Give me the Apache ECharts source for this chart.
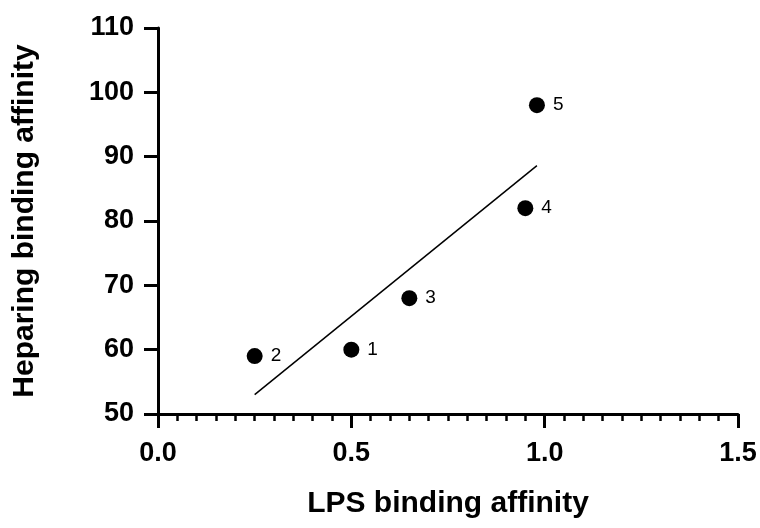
<!DOCTYPE html>
<html>
<head>
<meta charset="utf-8">
<script src="https://cdn.jsdelivr.net/npm/echarts@6/dist/echarts.min.js"></script>
<style>
  html, body { margin: 0; padding: 0; background: #fff; }
  #chart { width: 760px; height: 528px; }
</style>
</head>
<body>
<div id="chart"></div>
<script>
// sample points (label, LPS affinity, heparin affinity)
const pointIds = ['1', '2', '3', '4', '5']
const lpsAffinity = [0.5, 0.25, 0.65, 0.95, 0.98]
const heparinAffinity = [60, 59, 68, 82, 98]

// fitted line, two ends
const fitX = [0.25, 0.98]
const fitY = [53, 88.6]

const font = '"Liberation Sans", Arial, sans-serif'

const chart = echarts.init(document.getElementById('chart'))

const points = pointIds.map((id, i) => ({name: id, value: [lpsAffinity[i], heparinAffinity[i]]}))
const fitLine = fitX.map((x, i) => [x, fitY[i]])

chart.setOption({
  animation: false,
  backgroundColor: '#fff',
  grid: {left: 158, right: 22, top: 28, bottom: 114},
  xAxis: {
    type: 'value',
    min: 0,
    max: 1.5,
    interval: 0.5,
    name: 'LPS binding affinity',
    nameLocation: 'middle',
    nameGap: 75,
    nameTextStyle: {fontFamily: font, fontSize: 30, fontWeight: 'bold', color: '#000'},
    axisLine: {lineStyle: {color: '#000', width: 3}},
    axisTick: {show: true, length: 14, lineStyle: {color: '#000', width: 3}},
    minorTick: {show: true, splitNumber: 10, length: 7, lineStyle: {color: '#000', width: 2.5}},
    splitLine: {show: false},
    axisLabel: {
      margin: 26,
      fontFamily: font, fontSize: 27, fontWeight: 'bold', color: '#000',
      formatter: v => v.toFixed(1)
    }
  },
  yAxis: {
    type: 'value',
    min: 50,
    max: 110,
    interval: 10,
    name: 'Heparing binding affinity',
    nameLocation: 'middle',
    nameGap: 118,
    nameTextStyle: {fontFamily: font, fontSize: 30, fontWeight: 'bold', color: '#000'},
    axisLine: {show: true, lineStyle: {color: '#000', width: 3}},
    axisTick: {show: true, length: 14, lineStyle: {color: '#000', width: 3}},
    splitLine: {show: false},
    axisLabel: {margin: 24, fontFamily: font, fontSize: 27, fontWeight: 'bold', color: '#000'}
  },
  series: [
    {
      type: 'line',
      data: fitLine,
      symbol: 'none',
      lineStyle: {color: '#000', width: 1.5},
      z: 1
    },
    {
      type: 'scatter',
      data: points,
      symbolSize: 16,
      itemStyle: {color: '#000', opacity: 1},
      label: {
        show: true,
        position: 'right',
        distance: 8,
        formatter: p => p.name,
        fontFamily: font,
        fontSize: 19,
        color: '#000'
      },
      z: 2
    }
  ]
})
</script>
</body>
</html>
